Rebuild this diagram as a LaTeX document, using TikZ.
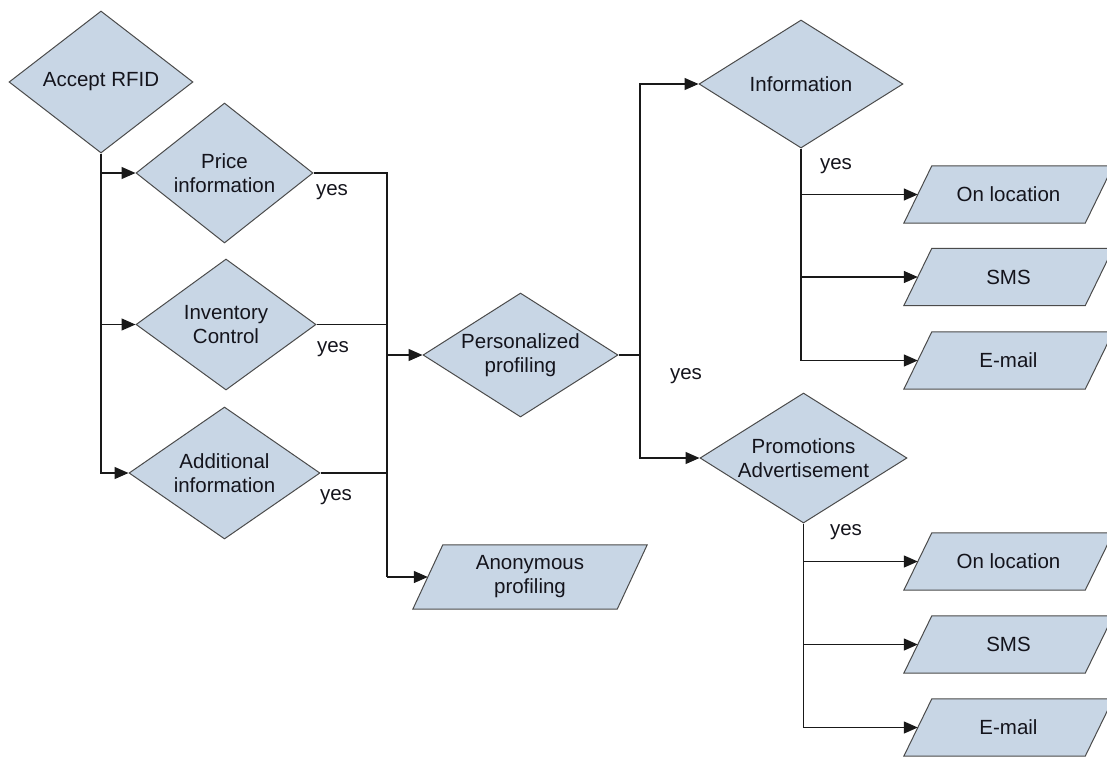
\documentclass[tikz,border=0pt]{standalone}
\usepackage{fontspec}
\setmainfont{Liberation Sans}
\usetikzlibrary{shapes.geometric,arrows.meta,backgrounds}
\definecolor{boxfill}{RGB}{200,214,229}
\definecolor{boxline}{RGB}{75,75,75}
\definecolor{wirec}{RGB}{25,25,25}
\definecolor{txt}{RGB}{20,20,28}
\newcommand\mainfs{\fontsize{20.5}{24}\selectfont}
\newcommand\paradraw[2]{%
  \draw[shp] ([xshift=-#2]#1.south west) -- ([xshift=#2]#1.north west) -- ([xshift=#2]#1.north east) -- ([xshift=-#2]#1.south east) -- cycle;}
\tikzset{
  dia/.style={diamond, draw=boxline, fill=boxfill, line width=1pt, inner sep=0pt},
  pbox/.style={rectangle, minimum width=#1, minimum height=57pt, inner sep=0pt, align=center, text=txt},
  shp/.style={draw=boxline, fill=boxfill, line width=1pt, line join=miter},
  wire/.style={draw=wirec, line width=1.3pt},
  arr/.style={wire, -{Triangle[length=14pt,width=12pt]}},
  yes/.style={text=txt, inner sep=0pt},
}
\begin{document}
\begin{tikzpicture}[x=1pt,y=-1pt, font=\mainfs,
  every label/.style={font=\mainfs, align=center, text=txt, inner sep=0pt}]
\clip (0,0) rectangle (1107,756);

% decision diamonds
\node[dia, minimum width=184pt, minimum height=142pt, label=center:{Accept RFID}] (accept) at (101,82) {};
\node[dia, minimum width=177pt, minimum height=140pt, label=center:{Price\\information}] (price) at (224.5,173) {};
\node[dia, minimum width=180pt, minimum height=131pt, label=center:{Inventory\\Control}] (inv) at (226,324.5) {};
\node[dia, minimum width=191pt, minimum height=132pt, label=center:{Additional\\information}] (add) at (224.5,473) {};
\node[dia, minimum width=195pt, minimum height=124pt, label=center:{Personalized\\profiling}] (pers) at (520.5,355) {};
\node[dia, minimum width=204pt, minimum height=128pt, label=center:{Information}] (info) at (801,84) {};
\node[dia, minimum width=207pt, minimum height=130pt, label=center:{Promotions\\Advertisement}] (promo) at (803.5,458) {};

% parallelogram outputs
\node[pbox=204pt, minimum height=64pt] (anon) at (530,577) {Anonymous\\profiling};
\node[pbox=181pt] (iloc) at (1008.5,194.5) {On location};
\node[pbox=181pt] (isms) at (1008.5,277) {SMS};
\node[pbox=181pt] (imail) at (1008.5,360.5) {E-mail};
\node[pbox=181pt] (ploc) at (1008.5,561.5) {On location};
\node[pbox=181pt] (psms) at (1008.5,644.5) {SMS};
\node[pbox=181pt] (pmail) at (1008.5,727.5) {E-mail};
\begin{pgfonlayer}{background}
  \paradraw{anon}{15pt}
  \paradraw{iloc}{14pt}
  \paradraw{isms}{14pt}
  \paradraw{imail}{14pt}
  \paradraw{ploc}{14pt}
  \paradraw{psms}{14pt}
  \paradraw{pmail}{14pt}
\end{pgfonlayer}

% junctions
\coordinate (jr) at (387,577);
\coordinate (pj) at (640,355);

% connectors
\draw[arr] (accept.south) |- (price.west);
\draw[arr] (accept.south) |- (inv.west);
\draw[arr] (accept.south) |- (add.west);
\draw[wire] (price.east) -| (jr);
\draw[wire] (inv.east) -- (inv.east -| jr);
\draw[wire] (add.east) -- (add.east -| jr);
\draw[arr] (jr) -- (anon.west);
\draw[arr] (pers.west -| jr) -- (pers.west);
\draw[arr] (pers.east) -- (pj) |- (info.west);
\draw[arr] (pj) |- (promo.west);
\draw[arr] (info.south) |- (iloc.west);
\draw[arr] (info.south) |- (isms.west);
\draw[arr] (info.south) |- (imail.west);
\draw[arr] (promo.south) |- (ploc.west);
\draw[arr] (promo.south) |- (psms.west);
\draw[arr] (promo.south) |- (pmail.west);

% yes labels
\node[yes] (y1) at (332,192) {yes};
\node[yes] (y2) at (333,349) {yes};
\node[yes] (y3) at (336,497) {yes};
\node[yes] (y4) at (686,376) {yes};
\node[yes] (y5) at (836,166) {yes};
\node[yes] (y6) at (846,532) {yes};
\end{tikzpicture}
\end{document}
